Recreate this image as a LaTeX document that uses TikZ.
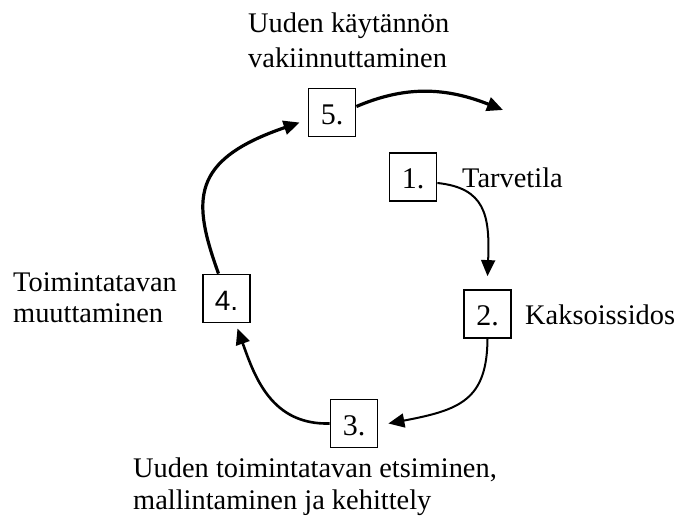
\documentclass[tikz,border=0pt]{standalone}
\usepackage{fontspec}
\setmainfont{Liberation Serif}
\newfontfamily\arialfont{Liberation Sans}
\usetikzlibrary{arrows.meta}
\begin{document}
\begin{tikzpicture}[x=1pt,y=-1pt,
  numbox/.style={draw,line width=1.8pt,minimum width=47pt,minimum height=48pt,inner sep=0pt,
    text height=24pt,text depth=0pt,font=\fontsize{30}{34}\selectfont},
  lbl/.style={anchor=base west,inner sep=0pt,font=\fontsize{28.4}{34}\selectfont},
  flow/.style={-{Triangle[length=16pt,width=14pt]}},
  thin/.style={flow,line width=2pt},
  mid/.style={flow,line width=2.6pt},
  thick/.style={flow,line width=3.2pt}]
\useasboundingbox (0,0) rectangle (681,521);

% the five stages
\node[numbox] (b5) at (332,112.5) {5.};
\node[numbox] (b1) at (413,177) {1.};
\node[numbox] (b2) at (487.5,314) {2.};
\node[numbox] (b3) at (354,423.5) {3.};
\node[numbox,font=\arialfont\fontsize{28}{32}\selectfont] (b4) at (226.5,298.5) {4.};

% stage descriptions
\node[lbl] (t5a) at (248,33) {Uuden käytännön};
\node[lbl] (t5b) at (248,68) {vakiinnuttaminen};
\node[lbl] (t1) at (462,188) {Tarvetila};
\node[lbl] (t2) at (525,325) {Kaksoissidos};
\node[lbl] (t3a) at (133,478) {Uuden toimintatavan etsiminen,};
\node[lbl] (t3b) at (133,510) {mallintaminen ja kehittely};
\node[lbl] (t4a) at (13,292) {Toimintatavan};
\node[lbl] (t4b) at (13,323) {muuttaminen};

% free end of the outgoing arrow
\coordinate (exit) at (503,110);

% cycle arrows
\draw[thin] ([yshift=-6pt]b1.east) .. controls (485,188) and (490,215) .. ([yshift=13pt]b2.north);
\draw[thin] (b2.south) .. controls (487,400) and (460,410) .. ([xshift=10pt]b3.east);
\draw[mid] (b3.west) .. controls (272,425) and (255,378) .. ([xshift=11pt,yshift=-5pt]b4.south);
\draw[thick] ([xshift=-8pt]b4.north) .. controls (192,200) and (190,160) .. ([xshift=-8pt,yshift=-10pt]b5.west);
\draw[thick] ([yshift=6pt]b5.east) .. controls (400,88) and (440,85) .. (exit);
\end{tikzpicture}
\end{document}
